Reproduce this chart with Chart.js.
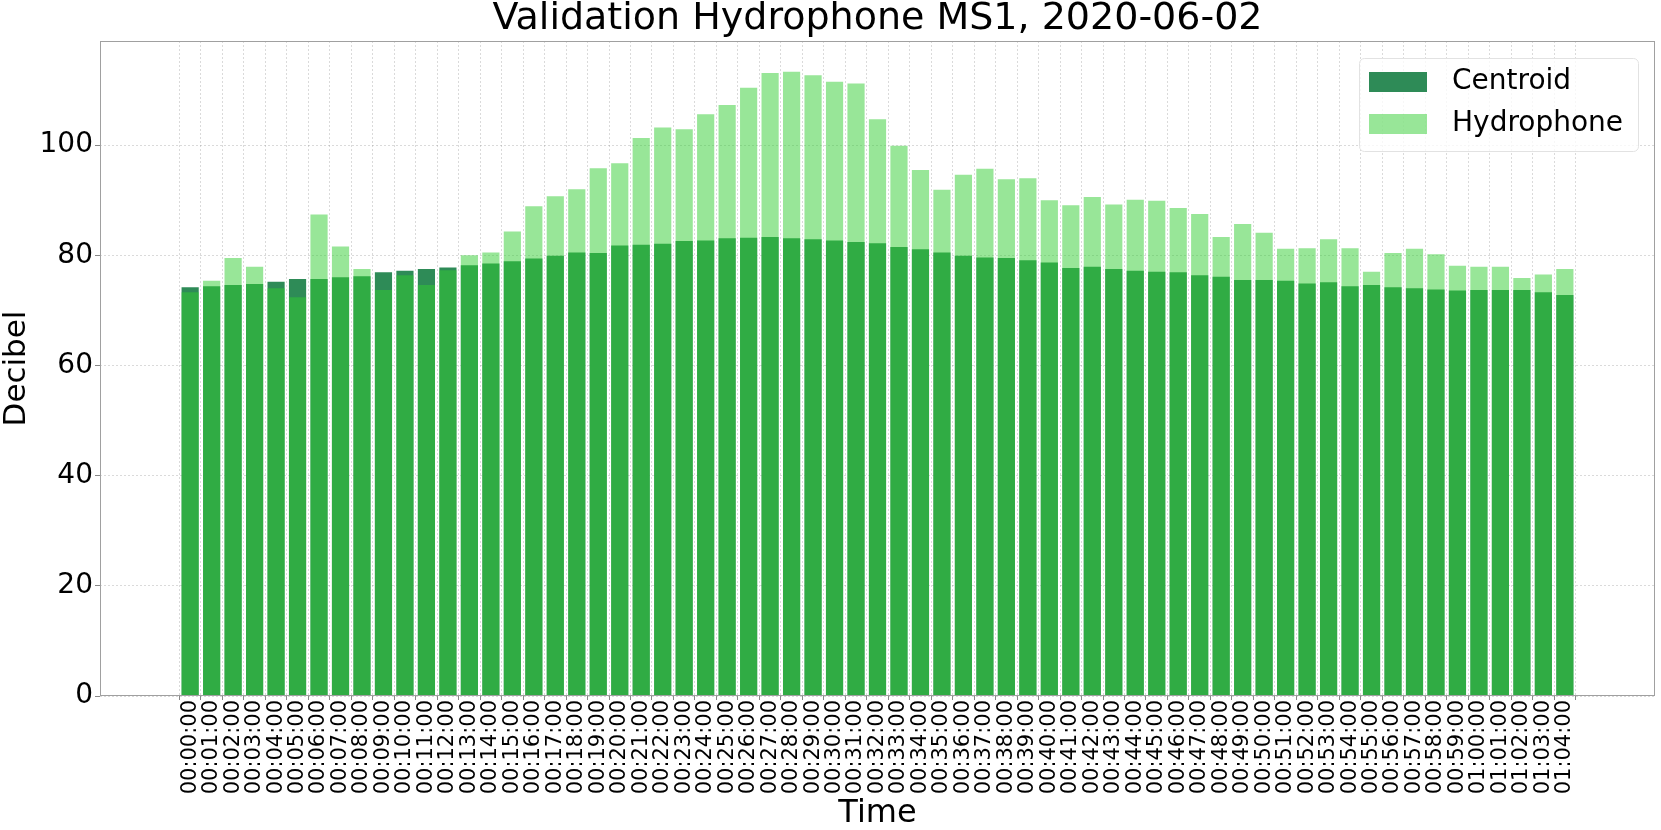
<!DOCTYPE html>
<html>
<head>
<meta charset="utf-8">
<script src="https://cdn.jsdelivr.net/npm/chart.js@4/dist/chart.umd.min.js"></script>
<style>
  body { margin: 0; background: #fff; }
  canvas { display: block; }
</style>
</head>
<body>
<canvas id="myChart" width="1661" height="830"></canvas>
<script>
const MY_CHART = document.querySelector("#myChart");

const timeLabels = [
  '00:00:00','00:01:00','00:02:00','00:03:00','00:04:00','00:05:00','00:06:00','00:07:00',
  '00:08:00','00:09:00','00:10:00','00:11:00','00:12:00','00:13:00','00:14:00','00:15:00',
  '00:16:00','00:17:00','00:18:00','00:19:00','00:20:00','00:21:00','00:22:00','00:23:00',
  '00:24:00','00:25:00','00:26:00','00:27:00','00:28:00','00:29:00','00:30:00','00:31:00',
  '00:32:00','00:33:00','00:34:00','00:35:00','00:36:00','00:37:00','00:38:00','00:39:00',
  '00:40:00','00:41:00','00:42:00','00:43:00','00:44:00','00:45:00','00:46:00','00:47:00',
  '00:48:00','00:49:00','00:50:00','00:51:00','00:52:00','00:53:00','00:54:00','00:55:00',
  '00:56:00','00:57:00','00:58:00','00:59:00','01:00:00','01:01:00','01:02:00','01:03:00',
  '01:04:00'
];

const centroid = [
  74.2, 74.4, 74.6, 74.8, 75.2, 75.7, 75.7, 76.0, 76.2, 76.9, 77.2, 77.5, 77.8, 78.2, 78.5, 78.9,
  79.4, 79.9, 80.5, 80.4, 81.8, 81.9, 82.1, 82.6, 82.7, 83.1, 83.2, 83.3, 83.1, 82.9, 82.7, 82.4,
  82.2, 81.5, 81.1, 80.5, 79.9, 79.6, 79.5, 79.1, 78.7, 77.7, 77.9, 77.5, 77.2, 77.0, 76.9, 76.4,
  76.1, 75.5, 75.5, 75.4, 74.9, 75.1, 74.4, 74.6, 74.2, 74.0, 73.8, 73.6, 73.7, 73.7, 73.7, 73.3,
  72.8
];

const hydrophone = [
  73.3, 75.4, 79.5, 77.9, 74.0, 72.4, 87.4, 81.6, 77.5, 73.7, 76.4, 74.6, 77.3, 80.0, 80.5, 84.3,
  88.9, 90.7, 92.0, 95.8, 96.7, 101.3, 103.2, 102.9, 105.6, 107.3, 110.4, 113.1, 113.3, 112.7, 111.5, 111.2,
  104.7, 99.9, 95.5, 91.9, 94.6, 95.7, 93.8, 94.0, 90.0, 89.1, 90.6, 89.2, 90.1, 89.9, 88.6, 87.5,
  83.3, 85.7, 84.1, 81.2, 81.3, 82.9, 81.3, 77.0, 80.4, 81.2, 80.2, 78.1, 77.9, 77.9, 75.9, 76.5,
  77.5
];

const yTicks = [0, 20, 40, 60, 80, 100];

const FONT = 'DejaVu Sans';
Chart.defaults.font.family = FONT;
Chart.defaults.color = '#000';

const GRID_COLOR = 'rgba(150,150,150,0.35)';

// legend + frame drawn by hand so it can sit inside the plot like matplotlib's
const legendInPlot = {
  id: 'legendInPlot',
  afterDraw(chart) {
    const ctx = chart.ctx;
    const a = chart.chartArea;
    ctx.save();
    ctx.strokeStyle = '#a0a0a0';
    ctx.lineWidth = 1;
    ctx.strokeRect(a.left + 0.5, a.top + 0.5, a.right - a.left - 1, a.bottom - a.top - 1);

    const x0 = 1359, y0 = 58, w = 279, h = 93;
    ctx.beginPath();
    ctx.roundRect(x0 + 0.5, y0 + 0.5, w, h, 5);
    ctx.fillStyle = 'rgba(255,255,255,0.8)';
    ctx.fill();
    ctx.strokeStyle = '#e2e2e2';
    ctx.stroke();

    ctx.font = '28px "' + FONT + '"';
    ctx.textBaseline = 'middle';
    ctx.textAlign = 'left';
    chart.data.datasets.forEach((ds, i) => {
      const sy = 72 + i * 42;
      ctx.fillStyle = ds.backgroundColor;
      ctx.fillRect(1369, sy, 58, 20);
      ctx.fillStyle = '#000';
      ctx.fillText(ds.label, 1452, sy + 10);
    });
    ctx.restore();
  }
};

const data = {
  datasets: [{
    label: 'Centroid',
    data: centroid.map((v, i) => ({ x: i, y: v })),
    backgroundColor: '#2e8b57',
    order: 1
  }, {
    label: 'Hydrophone',
    data: hydrophone.map((v, i) => ({ x: i, y: v })),
    backgroundColor: 'rgba(50,205,50,0.5)',
    order: 0
  }]
};

const CONFIG = {
  type: 'bar',
  data: data,
  options: {
    responsive: false,
    animation: false,
    layout: { padding: { left: 0, right: 6, top: 0, bottom: 0 } },
    datasets: {
      bar: { grouped: false, categoryPercentage: 1, barPercentage: 0.8 }
    },
    plugins: {
      legend: { display: false },
      tooltip: { enabled: false },
      title: {
        display: true,
        fullSize: false,
        text: 'Validation Hydrophone MS1, 2020-06-02',
        color: '#000',
        font: { size: 38, weight: 'normal', lineHeight: '34px' },
        padding: { top: 2, bottom: 5 }
      }
    },
    scales: {
      x: {
        type: 'linear',
        min: -3.64,
        max: 67.64,
        z: 1,
        grid: { color: GRID_COLOR, tickColor: '#888', tickLength: 4 },
        border: { display: false, dash: [2, 2] },
        afterBuildTicks: (axis) => {
          axis.ticks = axis.ticks.filter(t => t.value >= 0 && t.value < timeLabels.length);
        },
        afterFit: (scale) => { scale.height = 134; },
        ticks: {
          stepSize: 1,
          includeBounds: false,
          autoSkip: false,
          minRotation: 90,
          maxRotation: 90,
          padding: 0,
          font: { size: 21 },
          callback: (value) => timeLabels[value] ?? ''
        },
        title: {
          display: true,
          text: 'Time',
          font: { size: 32, lineHeight: 1 },
          padding: { top: 0, bottom: 0 }
        }
      },
      y: {
        min: 0,
        max: 118.9,
        z: 1,
        grid: { color: GRID_COLOR, tickColor: '#888', tickLength: 5 },
        border: { display: false, dash: [2, 2] },
        afterBuildTicks: (axis) => {
          axis.ticks = yTicks.map(v => ({ value: v }));
        },
        afterFit: (scale) => { scale.width = 100; },
        ticks: {
          padding: 2,
          font: { size: 28 }
        },
        title: {
          display: true,
          text: 'Decibel',
          font: { size: 31, lineHeight: 1 },
          padding: { top: 1, bottom: 0 }
        }
      }
    }
  },
  plugins: [legendInPlot]
};

const chart = new Chart(MY_CHART, CONFIG);
</script>
</body>
</html>
